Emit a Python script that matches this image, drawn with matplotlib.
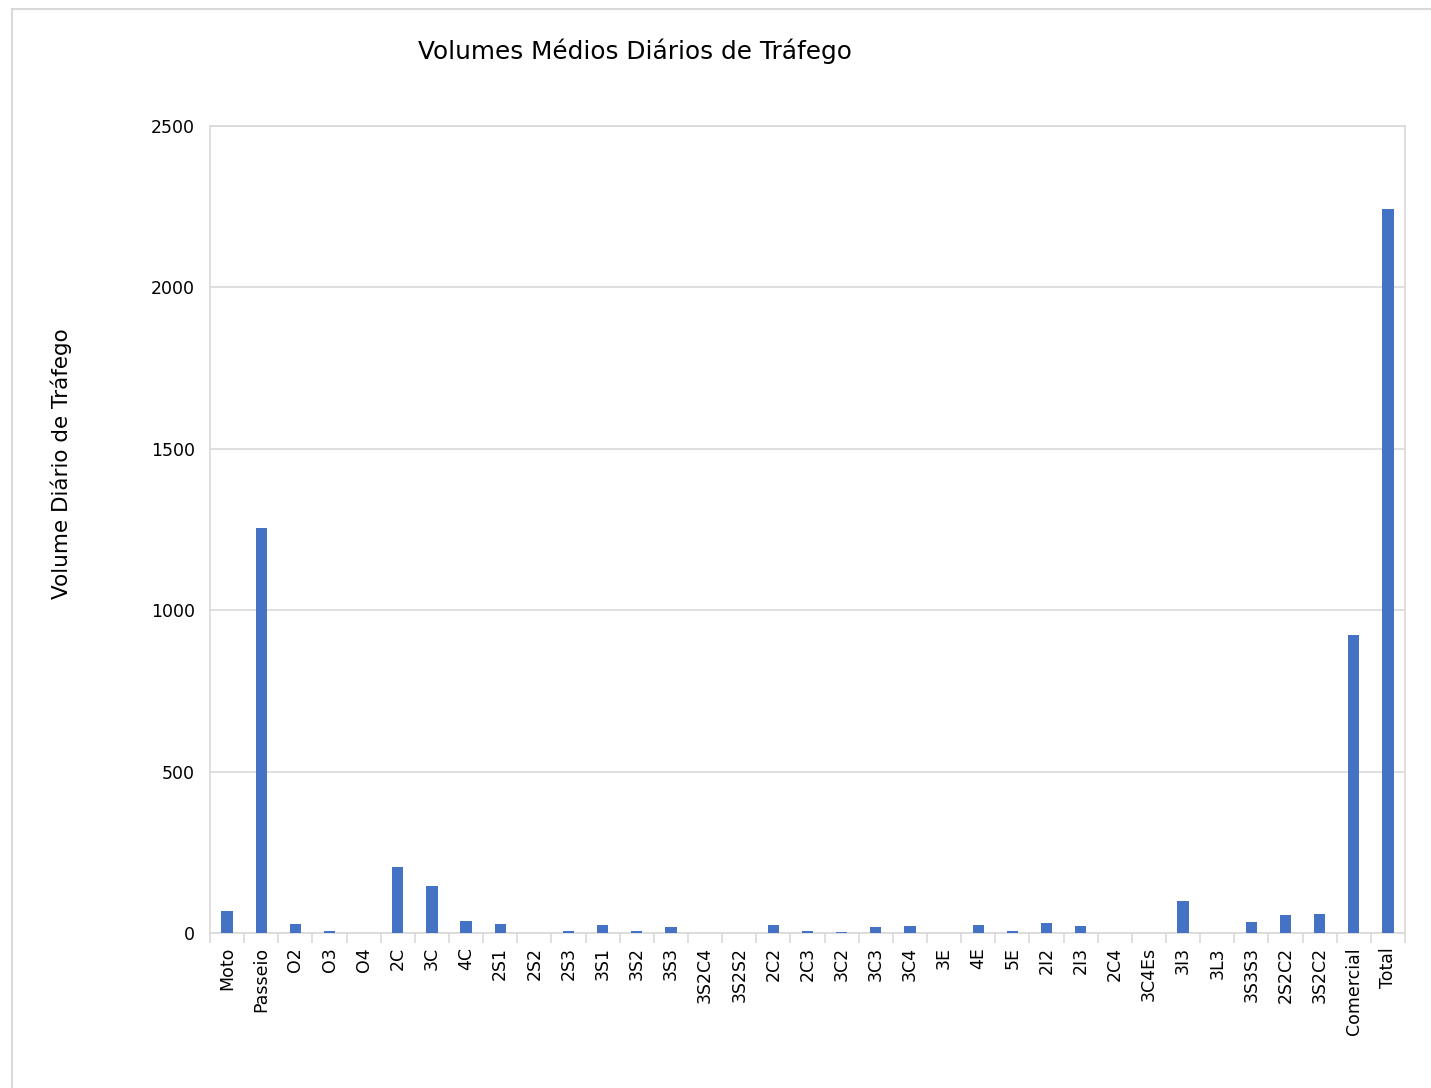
import matplotlib
matplotlib.use("Agg")
import matplotlib.pyplot as plt
from matplotlib.patches import Rectangle
import numpy as np

categories = ["Moto", "Passeio", "O2", "O3", "O4", "2C", "3C", "4C", "2S1", "2S2",
              "2S3", "3S1", "3S2", "3S3", "3S2C4", "3S2S2", "2C2", "2C3", "3C2", "3C3",
              "3C4", "3E", "4E", "5E", "2I2", "2I3", "2C4", "3C4Es", "3I3", "3L3",
              "3S3S3", "2S2C2", "3S2C2", "Comercial", "Total"]
values = [68, 1254, 27, 6, 0, 205, 146, 37, 28, 0,
          5, 25, 5, 19, 0, 0, 25, 5, 4, 19,
          21, 0, 25, 5, 31, 21, 0, 0, 99, 0,
          34, 55, 58, 923, 2243]
yticks = [0, 500, 1000, 1500, 2000, 2500]

plt.rcParams['font.family'] = ['DejaVu Sans']
W, H = 1431, 1088
fig = plt.figure(figsize=(W / 100, H / 100), dpi=100)

# outer chart border
fig.patches.append(Rectangle((12 / W, -0.05), 1.5, (1088 - 9) / H + 0.05, transform=fig.transFigure,
                             fill=False, edgecolor="#d9d9d9", linewidth=1.5))

ax = fig.add_axes([210 / W, (H - 933) / H, (1405 - 210) / W, (933 - 126) / H])
x = np.arange(len(categories))
ax.bar(x, values, width=0.33, color="#4472c4", zorder=3)
ax.set_xlim(-0.5, len(categories) - 0.5)
ax.set_ylim(0, 2500)
ax.set_yticks(yticks)
ax.set_yticklabels([str(v) for v in yticks], fontsize=12.5)
ax.tick_params(axis='y', length=0, pad=11)
ax.set_xticks(x)
ax.set_xticklabels(categories, rotation=90, fontsize=12.5)
ax.tick_params(axis='x', length=0, pad=10)
ax.set_xticks(np.arange(len(categories) + 1) - 0.5, minor=True)
ax.tick_params(axis='x', which='minor', length=7, color="#d9d9d9", width=1.2)
ax.grid(axis='y', color="#d9d9d9", linewidth=1.2, zorder=0)
for s in ax.spines.values():
    s.set_color("#d9d9d9")
    s.set_linewidth(1.2)
fig.text(61 / W, 1 - 464 / H, "Volume Diário de Tráfego", rotation=90,
         ha="center", va="center", fontsize=15.5)
fig.text(635 / W, 1 - 51 / H, "Volumes Médios Diários de Tráfego", ha="center", va="center", fontsize=17.8)

fig.savefig("out.png", dpi=100)
